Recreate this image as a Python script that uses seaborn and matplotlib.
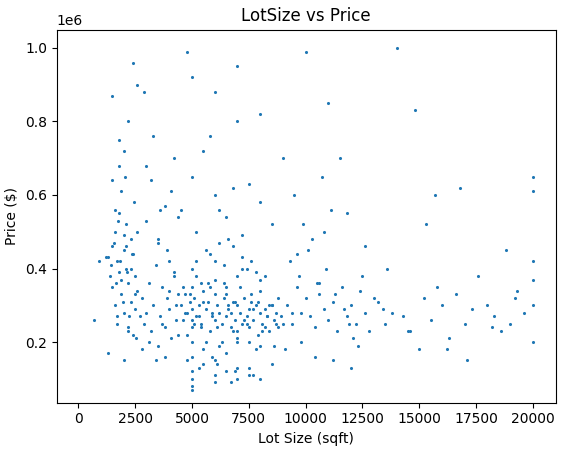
import matplotlib
matplotlib.use("Agg")
import matplotlib.pyplot as plt
import seaborn as sns
import pandas as pd

# Lot size (sqft) and price ($ thousands)
lot_size = [
 1300,1400,1500,1500,1600,1600,1700,1700,1800,1800,1900,1900,2000,2000,2100,2100,2200,2200,2300,2300,
 2400,2400,2500,2500,2600,2600,1450,1550,1650,1750,1850,1950,2050,2150,2250,2350,2450,2550,1500,2000,
 2200,1800,2400,1600,2100,2500,1700,1900,2300,2000,1200,900,700,1300,1500,2600,2700,2000,1800,2200,
 2800,2900,3000,3100,3200,3300,3400,3500,3600,3700,3800,3900,4000,4100,4200,4300,4400,3000,3200,3500,
 3800,4000,4200,2900,3300,3600,3900,4100,4300,3100,3400,3700,4000,4400,2800,3500,4200,3000,3800,4400,
 4500,4600,4700,4800,4900,5000,5000,5000,5000,5000,5100,5200,5300,5400,5500,5600,5700,5800,5900,6000,
 6000,6000,6100,6200,6300,6400,6500,6500,6600,6700,6800,6900,7000,7000,7000,7100,7200,7300,7400,7500,
 7500,7600,7700,7800,7900,8000,8000,8100,8200,8300,8400,8500,8600,8700,8800,8900,9000,4600,4800,5000,
 5200,5400,5600,5800,6000,6200,6400,6600,6800,7000,7200,7400,7600,7800,8000,8200,8400,8600,8800,4700,
 4900,5100,5300,5500,5700,5900,6100,6300,6500,6700,6900,7100,7300,7500,7700,7900,8100,8300,8500,8700,
 5000,5500,6000,6500,7000,7500,8000,5200,5800,6400,7200,7800,6200,6800,5600,7400,6600,5400,7600,8200,
 5000,5000,5000,5000,6000,6000,7000,7000,5500,6500,7500,8000,4800,5300,6100,6900,7700,8500,5900,6700,
 4500,5000,5500,6000,6500,7000,7500,8000,8500,9000,5000,6000,7000,8000,5200,6200,7200,4800,5800,6800,
 9200,9400,9600,9800,10000,10200,10400,10600,10800,11000,11200,11400,11600,11800,12000,12200,12400,12600,12800,13000,
 9300,9700,10100,10500,10900,11300,11700,12100,12500,9500,9900,10300,10700,11100,11500,11900,12300,9100,10000,11000,
 9800,10400,11200,12000,9600,10800,9400,10600,12600,11800,
 13200,13500,13800,14000,14300,14600,15000,15200,15500,15800,16000,16300,16600,17000,17300,17600,18000,18300,18600,19000,
 19300,19600,20000,20000,20000,20000,20000,20000,13600,14500,15300,16200,17100,18200,19200,14800,16800,18800,13400,15700,
]
price_k = [
 430,380,460,350,500,300,420,270,550,390,330,610,450,280,520,400,240,360,480,310,
 440,220,380,290,500,340,410,470,360,530,420,310,650,390,270,440,580,210,870,720,
 800,680,960,560,460,330,250,370,400,150,430,420,260,170,640,900,270,490,750,230,
 320,250,280,360,230,300,410,190,270,350,240,320,290,210,380,260,330,530,640,480,
 570,420,700,880,760,560,450,610,300,200,150,250,340,220,180,470,390,680,160,540,
 300,260,330,280,310,290,240,350,200,400,320,270,300,250,340,290,310,230,280,330,
 260,370,300,280,250,320,270,350,290,240,310,260,300,230,380,280,250,320,270,290,
 240,310,260,300,220,280,340,250,290,270,230,300,260,280,240,270,250,350,220,260,
 380,240,200,350,420,190,360,300,230,210,400,250,330,180,370,240,300,190,320,280,
 330,250,270,310,360,270,240,200,330,280,310,350,260,200,290,310,230,270,300,250,
 160,180,150,170,200,130,190,420,440,410,430,390,470,460,450,400,480,360,420,380,
 100,80,70,120,110,90,100,130,140,120,110,100,150,130,140,120,110,140,160,90,
 560,650,720,600,540,800,630,580,520,700,920,880,950,820,500,560,490,990,760,620,
 300,250,350,280,320,270,240,330,290,260,310,230,350,270,300,250,340,280,230,320,
 420,380,450,360,400,330,290,210,380,600,520,480,650,560,700,250,190,180,990,850,
 200,160,150,130,440,500,280,360,460,550,
 310,250,280,1000,270,230,180,320,260,350,300,210,330,250,290,380,300,270,230,250,
 340,280,650,420,300,370,200,610,400,230,520,180,150,240,320,830,620,450,290,600,
]

df = pd.DataFrame({"LotSize": lot_size, "Price": [p * 1000 for p in price_k]})

fig, ax = plt.subplots(figsize=(5.67, 4.55), dpi=100)
sns.scatterplot(data=df, x="LotSize", y="Price", s=5, color="#1f77b4",
                edgecolor=None, linewidth=0, ax=ax)
ax.set_title("LotSize vs Price")
ax.set_xlabel("Lot Size (sqft)")
ax.set_ylabel("Price ($)")
ax.set_xticks(range(0, 20001, 2500))
ax.set_xlim(-950, 21000)
ax.set_ylim(35000, 1050000)
fig.subplots_adjust(left=0.10, right=0.98, top=0.935, bottom=0.115)
fig.savefig("out.png")
